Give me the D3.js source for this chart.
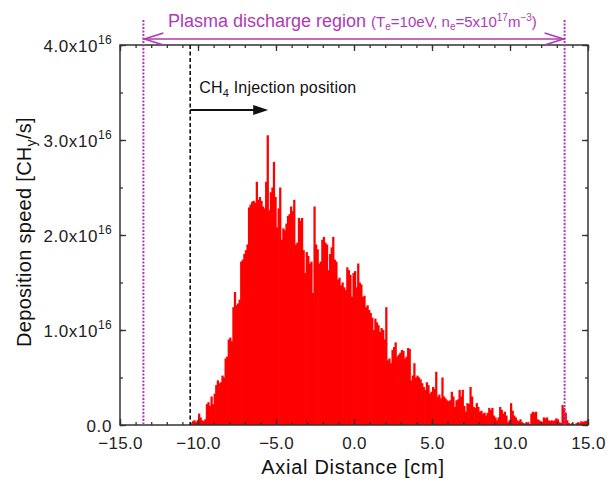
<!DOCTYPE html>
<html><head><meta charset="utf-8">
<script src="https://cdn.jsdelivr.net/npm/d3@7"></script>
<style>
html,body{margin:0;padding:0;background:#fff;}
svg{display:block;}
text{font-family:"Liberation Sans",Arial,sans-serif;}
</style></head>
<body>
<script>
// ---- data (deposition speed in units of 1e16 CHy/s, 0.1 cm bins starting at -10.5 cm)
const binStart = -10.5;
const binWidth = 0.1;
const values = [
 0.02,0.04,0.05,0.03,0.05,
 0.12,0.08,0.05,0.04,0.06,0.22,0.24,0.20,0.30,0.22,
 0.33,0.42,0.47,0.44,0.45,0.52,0.50,0.70,0.72,0.90,
 0.92,0.88,1.24,1.40,1.26,1.28,1.32,1.72,1.74,1.80,
 1.84,1.90,2.29,2.32,2.35,2.36,2.34,2.56,2.37,2.40,
 2.36,2.30,2.28,2.56,3.05,2.26,2.45,2.50,2.77,2.40,
 2.08,2.28,2.50,1.95,2.07,2.05,2.12,2.20,2.22,2.30,
 2.25,2.37,1.90,1.92,2.18,2.15,2.18,1.84,1.60,1.82,
 1.78,1.70,1.72,1.39,2.30,1.90,1.85,1.70,1.72,1.95,
 1.98,1.92,1.90,1.63,1.80,1.87,1.98,1.74,1.72,1.53,
 1.55,1.47,1.50,1.45,1.42,1.66,1.63,1.58,1.35,1.60,
 1.62,1.45,1.70,1.50,1.48,1.35,1.36,1.24,1.26,1.21,
 1.18,1.13,1.00,1.12,1.08,1.05,0.98,1.02,1.00,0.90,
 1.24,0.68,0.70,0.65,0.79,0.82,0.87,0.72,0.74,0.76,
 0.79,0.78,0.70,0.72,0.81,0.80,0.47,0.52,0.65,0.50,
 0.52,0.50,0.48,0.44,0.40,0.37,0.45,0.42,0.33,0.35,
 0.40,0.38,0.56,0.30,0.32,0.28,0.50,0.30,0.28,0.26,
 0.25,0.26,0.35,0.30,0.19,0.26,0.27,0.37,0.30,0.37,
 0.20,0.14,0.23,0.22,0.40,0.30,0.19,0.18,0.23,0.19,
 0.14,0.15,0.12,0.13,0.10,0.13,0.18,0.16,0.18,0.10,
 0.08,0.05,0.08,0.19,0.16,0.12,0.14,0.10,0.03,0.05,
 0.23,0.15,0.10,0.08,0.05,0.04,0.06,0.03,0.02,0.01,
 0.02,0.03,0.01,0.12,0.14,0.13,0.14,0.06,0.05,0.04,
 0.03,0.08,0.07,0.08,0.05,0.04,0.05,0.04,0.05,0.07,
 0.06,0.03,0.02,0.21,0.18,0.13,0.05,0.02,0.01,0.02,
 0.01,0.00,0.02,0.03,0.02,0.04,0.03,0.04,0.04,0.05
];
const xDomain = [-15, 15];
const yDomain = [0, 4];          // x 1e16
const xMajorTicks = [-15, -10, -5, 0, 5, 10, 15];
const yMajorTicks = [0, 1, 2, 3, 4];
const regionEdges = [-13.5, 13.5];
const injectionPos = -10.5;
const xTitle = "Axial Distance [cm]";
const yTitle = ["Deposition speed [CH", "y", "/s]"];
const regionLabel = "Plasma discharge region";
const injectionLabel = ["CH", "4", " Injection position"];

// ---- layout
const W = 614, H = 483;
const m = {l:120, t:45, r:26, b:58};
const pw = W - m.l - m.r, ph = H - m.t - m.b;
const purple = "#b03ab6";

const svg = d3.select("body").append("svg").attr("width", W).attr("height", H);
const x = d3.scaleLinear().domain(xDomain).range([m.l, m.l + pw]);
const y = d3.scaleLinear().domain(yDomain).range([m.t + ph, m.t]);

// bars
const bins = values.map((v, i) => ({x0: binStart + i*binWidth, x1: binStart + (i+1)*binWidth, v}));
svg.append("g").selectAll("rect").data(bins).join("rect")
  .attr("x", d => x(d.x0))
  .attr("width", d => x(d.x1) - x(d.x0) + 0.7)
  .attr("y", d => y(d.v))
  .attr("height", d => y(0) - y(d.v))
  .attr("fill", "#ff0000");

// axes with inward ticks
const axisColor = "#333";
function styleAxis(g){
  g.select(".domain").remove();
  g.selectAll(".tick line").attr("stroke", axisColor).attr("stroke-width", 1.3);
}
const xMinor = d3.range(-15, 15.01, 1);
const yMinor = d3.range(0, 4.01, 0.5);
// bottom
svg.append("g").attr("transform", `translate(0,${m.t+ph})`)
  .call(d3.axisBottom(x).tickValues(xMinor).tickSize(-3).tickFormat("")).call(styleAxis);
svg.append("g").attr("transform", `translate(0,${m.t+ph})`)
  .call(d3.axisBottom(x).tickValues(xMajorTicks).tickSize(-6).tickPadding(12).tickFormat(d3.format(".1f")))
  .call(styleAxis)
  .call(g => g.selectAll("text").attr("font-size", 17).attr("letter-spacing", 0.3).attr("fill", "#222").attr("dy", "0.68em"));
// top
svg.append("g").attr("transform", `translate(0,${m.t})`)
  .call(d3.axisTop(x).tickValues(xMinor).tickSize(-3).tickFormat("")).call(styleAxis);
svg.append("g").attr("transform", `translate(0,${m.t})`)
  .call(d3.axisTop(x).tickValues(xMajorTicks).tickSize(-6).tickFormat("")).call(styleAxis);
// left
svg.append("g").attr("transform", `translate(${m.l},0)`)
  .call(d3.axisLeft(y).tickValues(yMinor).tickSize(-3).tickFormat("")).call(styleAxis);
const yl = svg.append("g").attr("transform", `translate(${m.l},0)`)
  .call(d3.axisLeft(y).tickValues(yMajorTicks).tickSize(-6).tickPadding(7).tickFormat(""))
  .call(styleAxis);
yl.selectAll(".tick").each(function(d){
  const t = d3.select(this).append("text").attr("x", -8).attr("y", 6)
    .attr("text-anchor", "end").attr("fill", "#222").attr("font-size", 17).attr("letter-spacing", 0.6);
  if (d === 0) { t.text("0.0"); }
  else {
    t.append("tspan").text(d3.format(".1f")(d) + "x10");
    t.append("tspan").attr("font-size", 12).attr("letter-spacing", 0.3).attr("dy", -8).text("16");
  }
});
// right
svg.append("g").attr("transform", `translate(${m.l+pw},0)`)
  .call(d3.axisRight(y).tickValues(yMinor).tickSize(-3).tickFormat("")).call(styleAxis);
svg.append("g").attr("transform", `translate(${m.l+pw},0)`)
  .call(d3.axisRight(y).tickValues(yMajorTicks).tickSize(-6).tickFormat("")).call(styleAxis);

// frame
svg.append("rect").attr("x", m.l).attr("y", m.t).attr("width", pw).attr("height", ph)
  .attr("fill", "none").attr("stroke", axisColor).attr("stroke-width", 1.5);

// axis titles
svg.append("text").attr("x", x(0) - 1).attr("y", 474).attr("text-anchor", "middle")
  .attr("font-size", 20).attr("letter-spacing", 0.7).attr("fill", "#111").text(xTitle);
const yt = svg.append("text").attr("transform", `translate(31,${m.t+ph/2-3}) rotate(-90)`)
  .attr("text-anchor", "middle").attr("font-size", 20).attr("letter-spacing", 0.3).attr("fill", "#111");
yt.append("tspan").text(yTitle[0]);
yt.append("tspan").attr("font-size", 14).attr("dy", 5).text(yTitle[1]);
yt.append("tspan").attr("dy", -5).text(yTitle[2]);

// injection position dashed line
svg.append("line").attr("x1", x(injectionPos)).attr("x2", x(injectionPos))
  .attr("y1", m.t).attr("y2", m.t+ph)
  .attr("stroke", "#111").attr("stroke-width", 1.6).attr("stroke-dasharray", "4,2.5");
// injection label and arrow
const il = svg.append("text").attr("x", x(injectionPos) + 9).attr("y", 93)
  .attr("font-size", 16).attr("letter-spacing", 0.2).attr("fill", "#111");
il.append("tspan").text(injectionLabel[0]);
il.append("tspan").attr("font-size", 11).attr("dy", 4).text(injectionLabel[1]);
il.append("tspan").attr("dy", -4).text(injectionLabel[2]);
const ax0 = x(injectionPos), ax1 = ax0 + 78, ay = 110;
svg.append("line").attr("x1", ax0).attr("x2", ax1 - 12).attr("y1", ay).attr("y2", ay)
  .attr("stroke", "#111").attr("stroke-width", 2);
svg.append("path").attr("d", `M${ax1},${ay} L${ax1-15},${ay-5} L${ax1-15},${ay+5} Z`).attr("fill", "#111");

// plasma region dotted lines
regionEdges.forEach(e => {
  svg.append("line").attr("x1", x(e)).attr("x2", x(e)).attr("y1", 20).attr("y2", m.t+ph)
    .attr("stroke", purple).attr("stroke-width", 2).attr("stroke-dasharray", "2,1.5");
});
// double arrow
const rx0 = x(regionEdges[0]), rx1 = x(regionEdges[1]), ry = 39;
svg.append("line").attr("x1", rx0).attr("x2", rx1).attr("y1", ry).attr("y2", ry)
  .attr("stroke", purple).attr("stroke-width", 1.6);
svg.append("path").attr("d", `M${rx0+20},${ry-6} L${rx0+1},${ry} L${rx0+20},${ry+6} M${rx1-20},${ry-6} L${rx1-1},${ry} L${rx1-20},${ry+6}`)
  .attr("fill", "none").attr("stroke", purple).attr("stroke-width", 1.6);
// region label
const rl = svg.append("text").attr("x", 168).attr("y", 27).attr("fill", purple).attr("font-size", 18);
rl.append("tspan").text(regionLabel + " ");
const small = 15, tiny = 10;
rl.append("tspan").attr("font-size", small).text("(T");
rl.append("tspan").attr("font-size", tiny).attr("dy", 3).text("e");
rl.append("tspan").attr("font-size", small).attr("dy", -3).text("=10eV, n");
rl.append("tspan").attr("font-size", tiny).attr("dy", 3).text("e");
rl.append("tspan").attr("font-size", small).attr("dy", -3).text("=5x10");
rl.append("tspan").attr("font-size", tiny).attr("dy", -6).text("17");
rl.append("tspan").attr("font-size", small).attr("dy", 6).text("m");
rl.append("tspan").attr("font-size", tiny).attr("dy", -6).text("−3");
rl.append("tspan").attr("font-size", small).attr("dy", 6).text(")");
</script>
</body></html>
